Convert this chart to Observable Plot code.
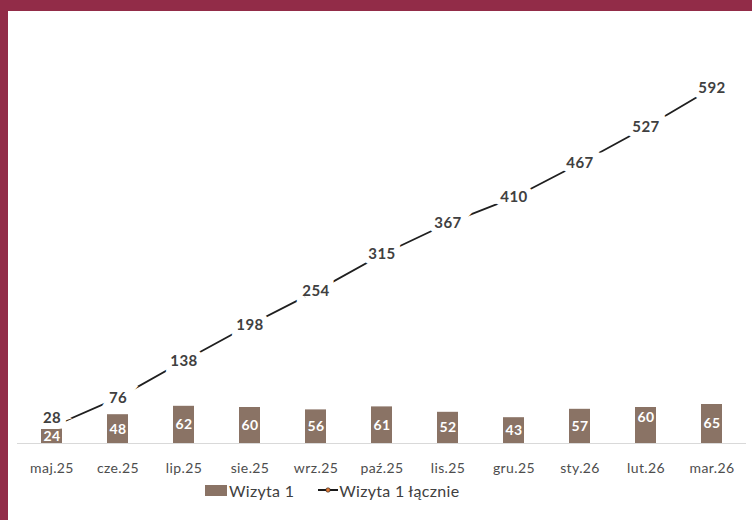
<!DOCTYPE html>
<html>
<head>
<meta charset="utf-8">
<script src="https://cdn.jsdelivr.net/npm/d3@7"></script>
<script src="https://cdn.jsdelivr.net/npm/@observablehq/plot@0.6"></script>
<style>
  html, body { margin: 0; padding: 0; background: #ffffff; }
  #frame {
    width: 752px; height: 520px; box-sizing: border-box;
    border-top: 11px solid #922c48; border-left: 8px solid #922c48;
    background: #ffffff; overflow: hidden;
    font-family: Lato, "Open Sans", sans-serif;
  }
  #chart svg text { letter-spacing: 0.4px; }
  #legend {
    display: flex; align-items: center; height: 18px;
    margin-left: 197px; font-size: 16px; color: #404040; letter-spacing: 0.3px;
  }
  .sw { display: inline-block; width: 22px; height: 11px; background: #8a7365; margin-right: 2px; }
  .item { display: flex; align-items: center; margin-right: 24px; }
</style>
</head>
<body>
<div id="frame">
  <div id="chart"></div>
  <div id="legend">
    <span class="item"><span class="sw"></span>Wizyta 1</span>
    <span class="item"><svg width="20" height="12" style="margin-right:1px"><line x1="0" y1="6" x2="20" y2="6" stroke="#1a1a1a" stroke-width="2"/><circle cx="10" cy="6" r="2.2" fill="#e07b39" stroke="#1a1a1a" stroke-width="0.6"/></svg>Wizyta 1 łącznie</span>
  </div>
</div>
<script>
const months = ["maj.25","cze.25","lip.25","sie.25","wrz.25","paź.25","lis.25","gru.25","sty.26","lut.26","mar.26"];
const wizyta1 = [24,48,62,60,56,61,52,43,57,60,65];
const wizyta1Lacznie = [28,76,138,198,254,315,367,410,467,527,592];

const data = months.map((m, i) => ({month: m, w: wizyta1[i], c: wizyta1Lacznie[i]}));

const chart = Plot.plot({
  width: 744,
  height: 470,
  marginLeft: 9,
  marginRight: 6,
  marginTop: 12,
  marginBottom: 38,
  style: {fontFamily: "Lato, 'Open Sans', sans-serif", background: "white"},
  x: {domain: months, paddingInner: 0.68, paddingOuter: 0.3, axis: null},
  y: {domain: [0, 700], axis: null},
  marks: [
    Plot.ruleY([0], {stroke: "#d9d9d9", strokeWidth: 1}),
    Plot.barY(data, {x: "month", y: "w", fill: "#8a7365"}),
    Plot.text(data.filter(d => d.month !== "lut.26"), {
      x: "month", y: d => d.w / 2, text: d => String(d.w),
      fill: "white", fontWeight: "bold", fontSize: 14
    }),
    Plot.text(data.filter(d => d.month === "lut.26"), {
      x: "month", y: "w", text: d => String(d.w), dy: 10,
      fill: "white", fontWeight: "bold", fontSize: 14
    }),
    Plot.line(data, {x: "month", y: "c", stroke: "#1f1f1f", strokeWidth: 1.8}),
    Plot.text(data.slice(1), {
      x: "month", y: "c", text: d => String(d.c),
      fill: "#404040", stroke: "white", strokeWidth: 12, paintOrder: "stroke",
      strokeLinejoin: "miter", fontWeight: "bold", fontSize: 15
    }),
    Plot.text(data.slice(0, 1), {
      x: "month", y: "c", text: d => String(d.c), dy: -9,
      fill: "#404040", stroke: "white", strokeWidth: 12, paintOrder: "stroke",
      strokeLinejoin: "miter", fontWeight: "bold", fontSize: 15
    }),
    Plot.axisX({tickSize: 0, tickPadding: 20, fontSize: 14, fill: "#4d4d4d", label: null})
  ]
});
document.getElementById("chart").appendChild(chart);
</script>
</body>
</html>
